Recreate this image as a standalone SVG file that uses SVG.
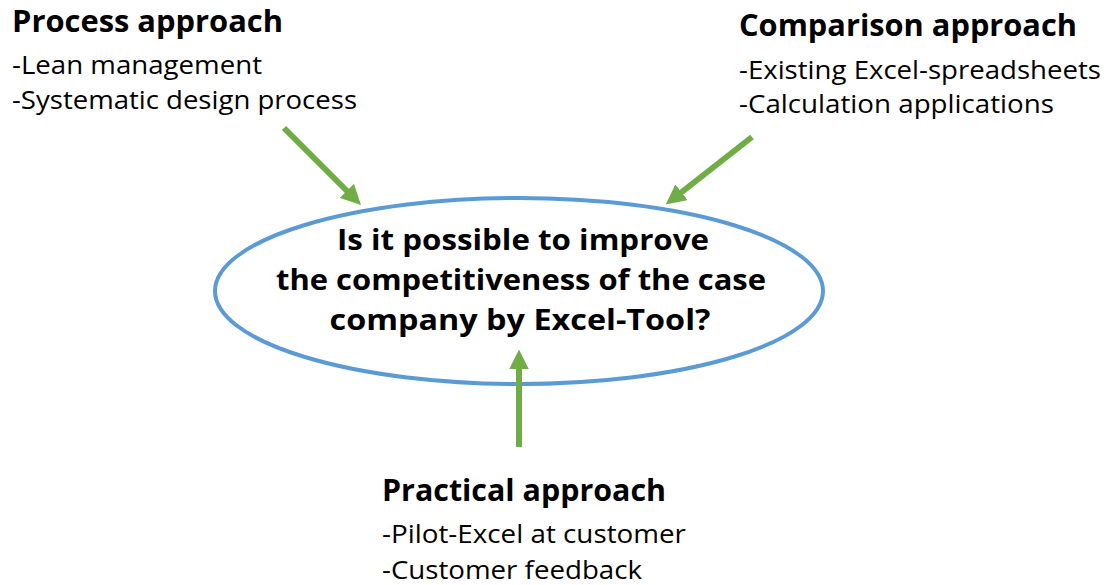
<svg xmlns="http://www.w3.org/2000/svg" width="1113" height="585" viewBox="0 0 1113 585">
<style>
text{font-family:"Open Sans","Noto Sans","Liberation Sans",sans-serif;fill:#000}
.h{font-weight:bold;font-size:30px}
.b{font-size:26px}
.q{font-weight:bold;font-size:29px;text-anchor:middle}
.arr{stroke:#70AD47;stroke-width:6;fill:none;marker-end:url(#ah)}
</style>
<defs>
<marker id="ah" markerUnits="userSpaceOnUse" markerWidth="20" markerHeight="20" refX="4" refY="9" orient="auto" viewBox="0 0 18 18">
<path d="M0,0 L18,9 L0,18 z" fill="#70AD47"/>
</marker>
</defs>
<rect width="1113" height="585" fill="#fff"/>
<g id="center">
<ellipse cx="519" cy="291" rx="304" ry="93" fill="none" stroke="#5B9BD5" stroke-width="4"/>
<text class="q" x="523" y="250" textLength="372" lengthAdjust="spacingAndGlyphs">Is it possible to improve</text>
<text class="q" x="521" y="290" textLength="490" lengthAdjust="spacingAndGlyphs">the competitiveness of the case</text>
<text class="q" x="520" y="330" textLength="381" lengthAdjust="spacingAndGlyphs">company by Excel-Tool?</text>
</g>
<g id="process">
<text class="h" x="12" y="32" textLength="271" lengthAdjust="spacingAndGlyphs">Process approach</text>
<text class="b" x="12" y="74" textLength="250" lengthAdjust="spacingAndGlyphs">-Lean management</text>
<text class="b" x="12" y="109" textLength="345" lengthAdjust="spacingAndGlyphs">-Systematic design process</text>
</g>
<g id="comparison">
<text class="h" x="739" y="36" textLength="338" lengthAdjust="spacingAndGlyphs">Comparison approach</text>
<text class="b" x="739" y="79" textLength="362" lengthAdjust="spacingAndGlyphs">-Existing Excel-spreadsheets</text>
<text class="b" x="739" y="113" textLength="315" lengthAdjust="spacingAndGlyphs">-Calculation applications</text>
</g>
<g id="practical">
<text class="h" x="382" y="501" textLength="284" lengthAdjust="spacingAndGlyphs">Practical approach</text>
<text class="b" x="382" y="543" textLength="304" lengthAdjust="spacingAndGlyphs">-Pilot-Excel at customer</text>
<text class="b" x="382" y="579" textLength="260" lengthAdjust="spacingAndGlyphs">-Customer feedback</text>
</g>
<g id="connectors">
<line class="arr" x1="284" y1="128" x2="350" y2="194"/>
<line class="arr" x1="752" y1="137" x2="678" y2="195"/>
<line class="arr" x1="519" y1="447" x2="519" y2="365"/>
</g>
</svg>
